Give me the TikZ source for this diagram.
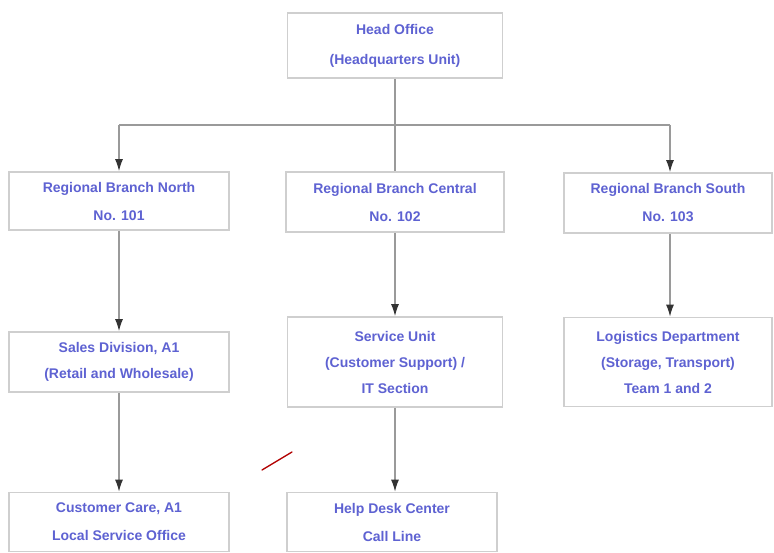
\documentclass[tikz,border=0pt]{standalone}
\usepackage{fontspec}
\setmainfont{Liberation Sans}
\usetikzlibrary{arrows.meta}
\definecolor{txtblue}{HTML}{5E62D2}
\definecolor{boxline}{HTML}{CFCFCF}
\definecolor{conn}{HTML}{9A9A9A}
\tikzset{
  box/.style={draw=boxline, line width=1.6pt, fill=white, rectangle,
    align=center, text=txtblue, font=\bfseries\fontsize{14}{26}\selectfont,
    inner sep=0pt},
  conline/.style={draw=conn, line width=1.4pt},
  arr/.style={conline, -{Latex[length=12pt,width=8pt,color=black!80]}}
}
\begin{document}
\begin{tikzpicture}[x=1pt,y=-1pt]
\useasboundingbox (0,0) rectangle (774,553);
\fill[white] (0,0) rectangle (774,553);
% root
\node[box, minimum width=215pt, minimum height=65pt,
  font=\bfseries\fontsize{14}{30}\selectfont] (root) at (395,45.5)
  {Head Office\\(Headquarters Unit)};
% level 1
\node[box, minimum width=220pt, minimum height=58pt,
  font=\bfseries\fontsize{14}{28}\selectfont] (la) at (119,201)
  {Regional Branch North\\No. 101};
\node[box, minimum width=218pt, minimum height=60pt,
  font=\bfseries\fontsize{14}{28}\selectfont] (lb) at (395,202)
  {Regional Branch Central\\No. 102};
\node[box, minimum width=208pt, minimum height=60pt,
  font=\bfseries\fontsize{14}{28}\selectfont] (lc) at (668,203)
  {Regional Branch South\\No. 103};
% level 2
\node[box, minimum width=220pt, minimum height=60pt] (ma) at (119,362)
  {Sales Division, A1\\(Retail and Wholesale)};
\node[box, minimum width=215pt, minimum height=90pt] (mb) at (395,362)
  {Service Unit\\(Customer Support) /\\IT Section};
\node[box, minimum width=208pt, minimum height=89pt] (mc) at (668,362)
  {Logistics Department\\(Storage, Transport)\\Team 1 and 2};
% level 3
\node[box, minimum width=220pt, minimum height=59pt,
  font=\bfseries\fontsize{14}{28}\selectfont] (na) at (119,522)
  {Customer Care, A1\\Local Service Office};
\node[box, minimum width=210pt, minimum height=59pt,
  font=\bfseries\fontsize{14}{28}\selectfont] (nb) at (392,522)
  {Help Desk Center\\Call Line};
% connectors
\coordinate (bus) at (395,125);
\coordinate (busl) at (119,125);
\coordinate (busr) at (670,125);
\draw[conline] (root.south) -- (bus);
\draw[conline] (busl) -- (busr);
\draw[arr] (busl) -- (busl |- la.north);
\draw[conline] (bus) -- (bus |- lb.north);
\draw[arr] (busr) -- (busr |- lc.north);
\draw[arr] (la.south) -- (ma.north);
\draw[arr] (lb.south) -- (mb.north);
\draw[arr] (lc.south -| busr) -- (mc.north -| busr);
\draw[arr] (ma.south) -- (na.north);
\draw[arr] (mb.south) -- (mb.south |- nb.north);
% red pen mark
\draw[red!70!black, line width=1.3pt, line cap=round] (262,470) -- (292,452);
\end{tikzpicture}
\end{document}
